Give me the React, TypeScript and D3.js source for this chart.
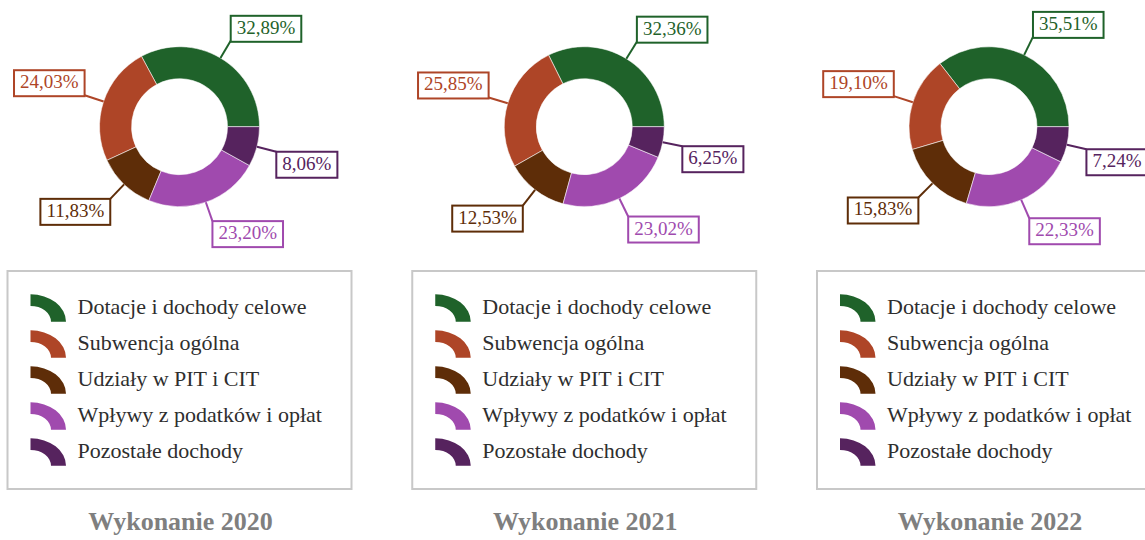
import React, { useEffect, useRef } from 'react';
import * as d3 from 'd3';

const categories = [
  'Dotacje i dochody celowe',
  'Subwencja ogólna',
  'Udziały w PIT i CIT',
  'Wpływy z podatków i opłat',
  'Pozostałe dochody',
];
const colors = ['#1f622a', '#ae4527', '#5e2d08', '#a04aae', '#56235e'];
const years = ['2020', '2021', '2022'];
const values2020 = [32.89, 24.03, 11.83, 23.2, 8.06];
const values2021 = [32.36, 25.85, 12.53, 23.02, 6.25];
const values2022 = [35.51, 19.1, 15.83, 22.33, 7.24];
const seriesValues = [values2020, values2021, values2022];

const fmt = (v: number) => v.toFixed(2).replace('.', ',') + '%';

const App: React.FC = () => {
  const svgRef = useRef<SVGSVGElement>(null);

  useEffect(() => {
    if (!svgRef.current) return;
    const svg = d3.select(svgRef.current);
    svg.selectAll('*').remove();

    const width = 1145;
    const height = 540;
    const cy = 126.7;
    const outerR = 80;
    const innerR = 48;
    const labelR = 100;
    const font = 'Liberation Serif, Times New Roman, serif';

    svg.attr('width', width).attr('height', height);

    // donut centres
    const xScale = d3.scalePoint<string>().domain(years).range([179.5, 989]);

    const pie = d3.pie<number>()
      .sort(null)
      .value(d => d)
      .startAngle(Math.PI / 2)
      .endAngle(Math.PI / 2 - 2 * Math.PI);

    const arc = d3.arc<d3.PieArcDatum<number>>()
      .innerRadius(innerR)
      .outerRadius(outerR);

    years.forEach((year, yi) => {
      const cx = xScale(year)!;
      const g = svg.append('g').attr('transform', `translate(${cx},${cy})`);
      const arcs = pie(seriesValues[yi]);

      // slices
      g.selectAll('path.slice')
        .data(arcs)
        .enter()
        .append('path')
        .attr('class', 'slice')
        .attr('d', arc)
        .attr('fill', (d, i) => colors[i])
        .attr('stroke', 'rgba(255,255,255,0.55)')
        .attr('stroke-width', 1);

      // labels
      arcs.forEach((a, i) => {
        const mid = (a.startAngle + a.endAngle) / 2;
        const sx = outerR * Math.sin(mid);
        const sy = -outerR * Math.cos(mid);
        const ex = labelR * Math.sin(mid);
        const ey = -labelR * Math.cos(mid);

        g.append('line')
          .attr('x1', sx).attr('y1', sy)
          .attr('x2', ex).attr('y2', ey)
          .attr('stroke', colors[i])
          .attr('stroke-width', 2);

        const lg = g.append('g');
        const rect = lg.append('rect');
        const text = lg.append('text')
          .attr('font-family', font)
          .attr('font-size', '19px')
          .attr('fill', colors[i])
          .attr('text-anchor', 'middle')
          .text(fmt(a.data));
        const tw = (text.node() as SVGTextElement).getComputedTextLength();
        const w = tw + 12;
        const h = 26;
        const bx = Math.sin(mid) >= 0 ? ex : ex - w;
        const by = Math.cos(mid) > 0 ? ey - h + 1 : ey;
        rect
          .attr('x', bx).attr('y', by)
          .attr('width', w).attr('height', h)
          .attr('fill', 'white')
          .attr('stroke', colors[i])
          .attr('stroke-width', 2);
        text.attr('x', bx + w / 2).attr('y', by + 18);
      });

      // legend
      const lx = cx - 172;
      const ly = 271;
      const leg = svg.append('g').attr('transform', `translate(${lx},${ly})`);
      leg.append('rect')
        .attr('x', 0).attr('y', 0)
        .attr('width', 344).attr('height', 218)
        .attr('fill', 'white')
        .attr('stroke', '#c8c8c8')
        .attr('stroke-width', 2);

      const iconArc = d3.arc<any>()
        .innerRadius(20.5)
        .outerRadius(35.5)
        .startAngle(0)
        .endAngle(Math.PI / 2);

      const rowY = d3.scaleLinear().domain([0, 1]).range([42.5, 78.5]);

      categories.forEach((c, i) => {
        const baseline = rowY(i);
        leg.append('path')
          .attr('d', iconArc({}) as string)
          .attr('transform', `translate(23,${baseline + 8.2}) scale(1,0.77)`)
          .attr('fill', colors[i]);
        leg.append('text')
          .attr('x', 70)
          .attr('y', baseline)
          .attr('font-family', font)
          .attr('font-size', '22px')
          .attr('fill', '#2e2e2e')
          .text(c);
      });

      // title
      svg.append('text')
        .attr('x', cx + 1)
        .attr('y', 530)
        .attr('text-anchor', 'middle')
        .attr('font-family', font)
        .attr('font-size', '26px')
        .attr('font-weight', 'bold')
        .attr('fill', '#7f7f7f')
        .text(`Wykonanie ${year}`);
    });
  }, []);

  return (
    <svg
      ref={svgRef}
      style={{ position: 'absolute', left: 0, top: 0, display: 'block' }}
    ></svg>
  );
};

export default App;
